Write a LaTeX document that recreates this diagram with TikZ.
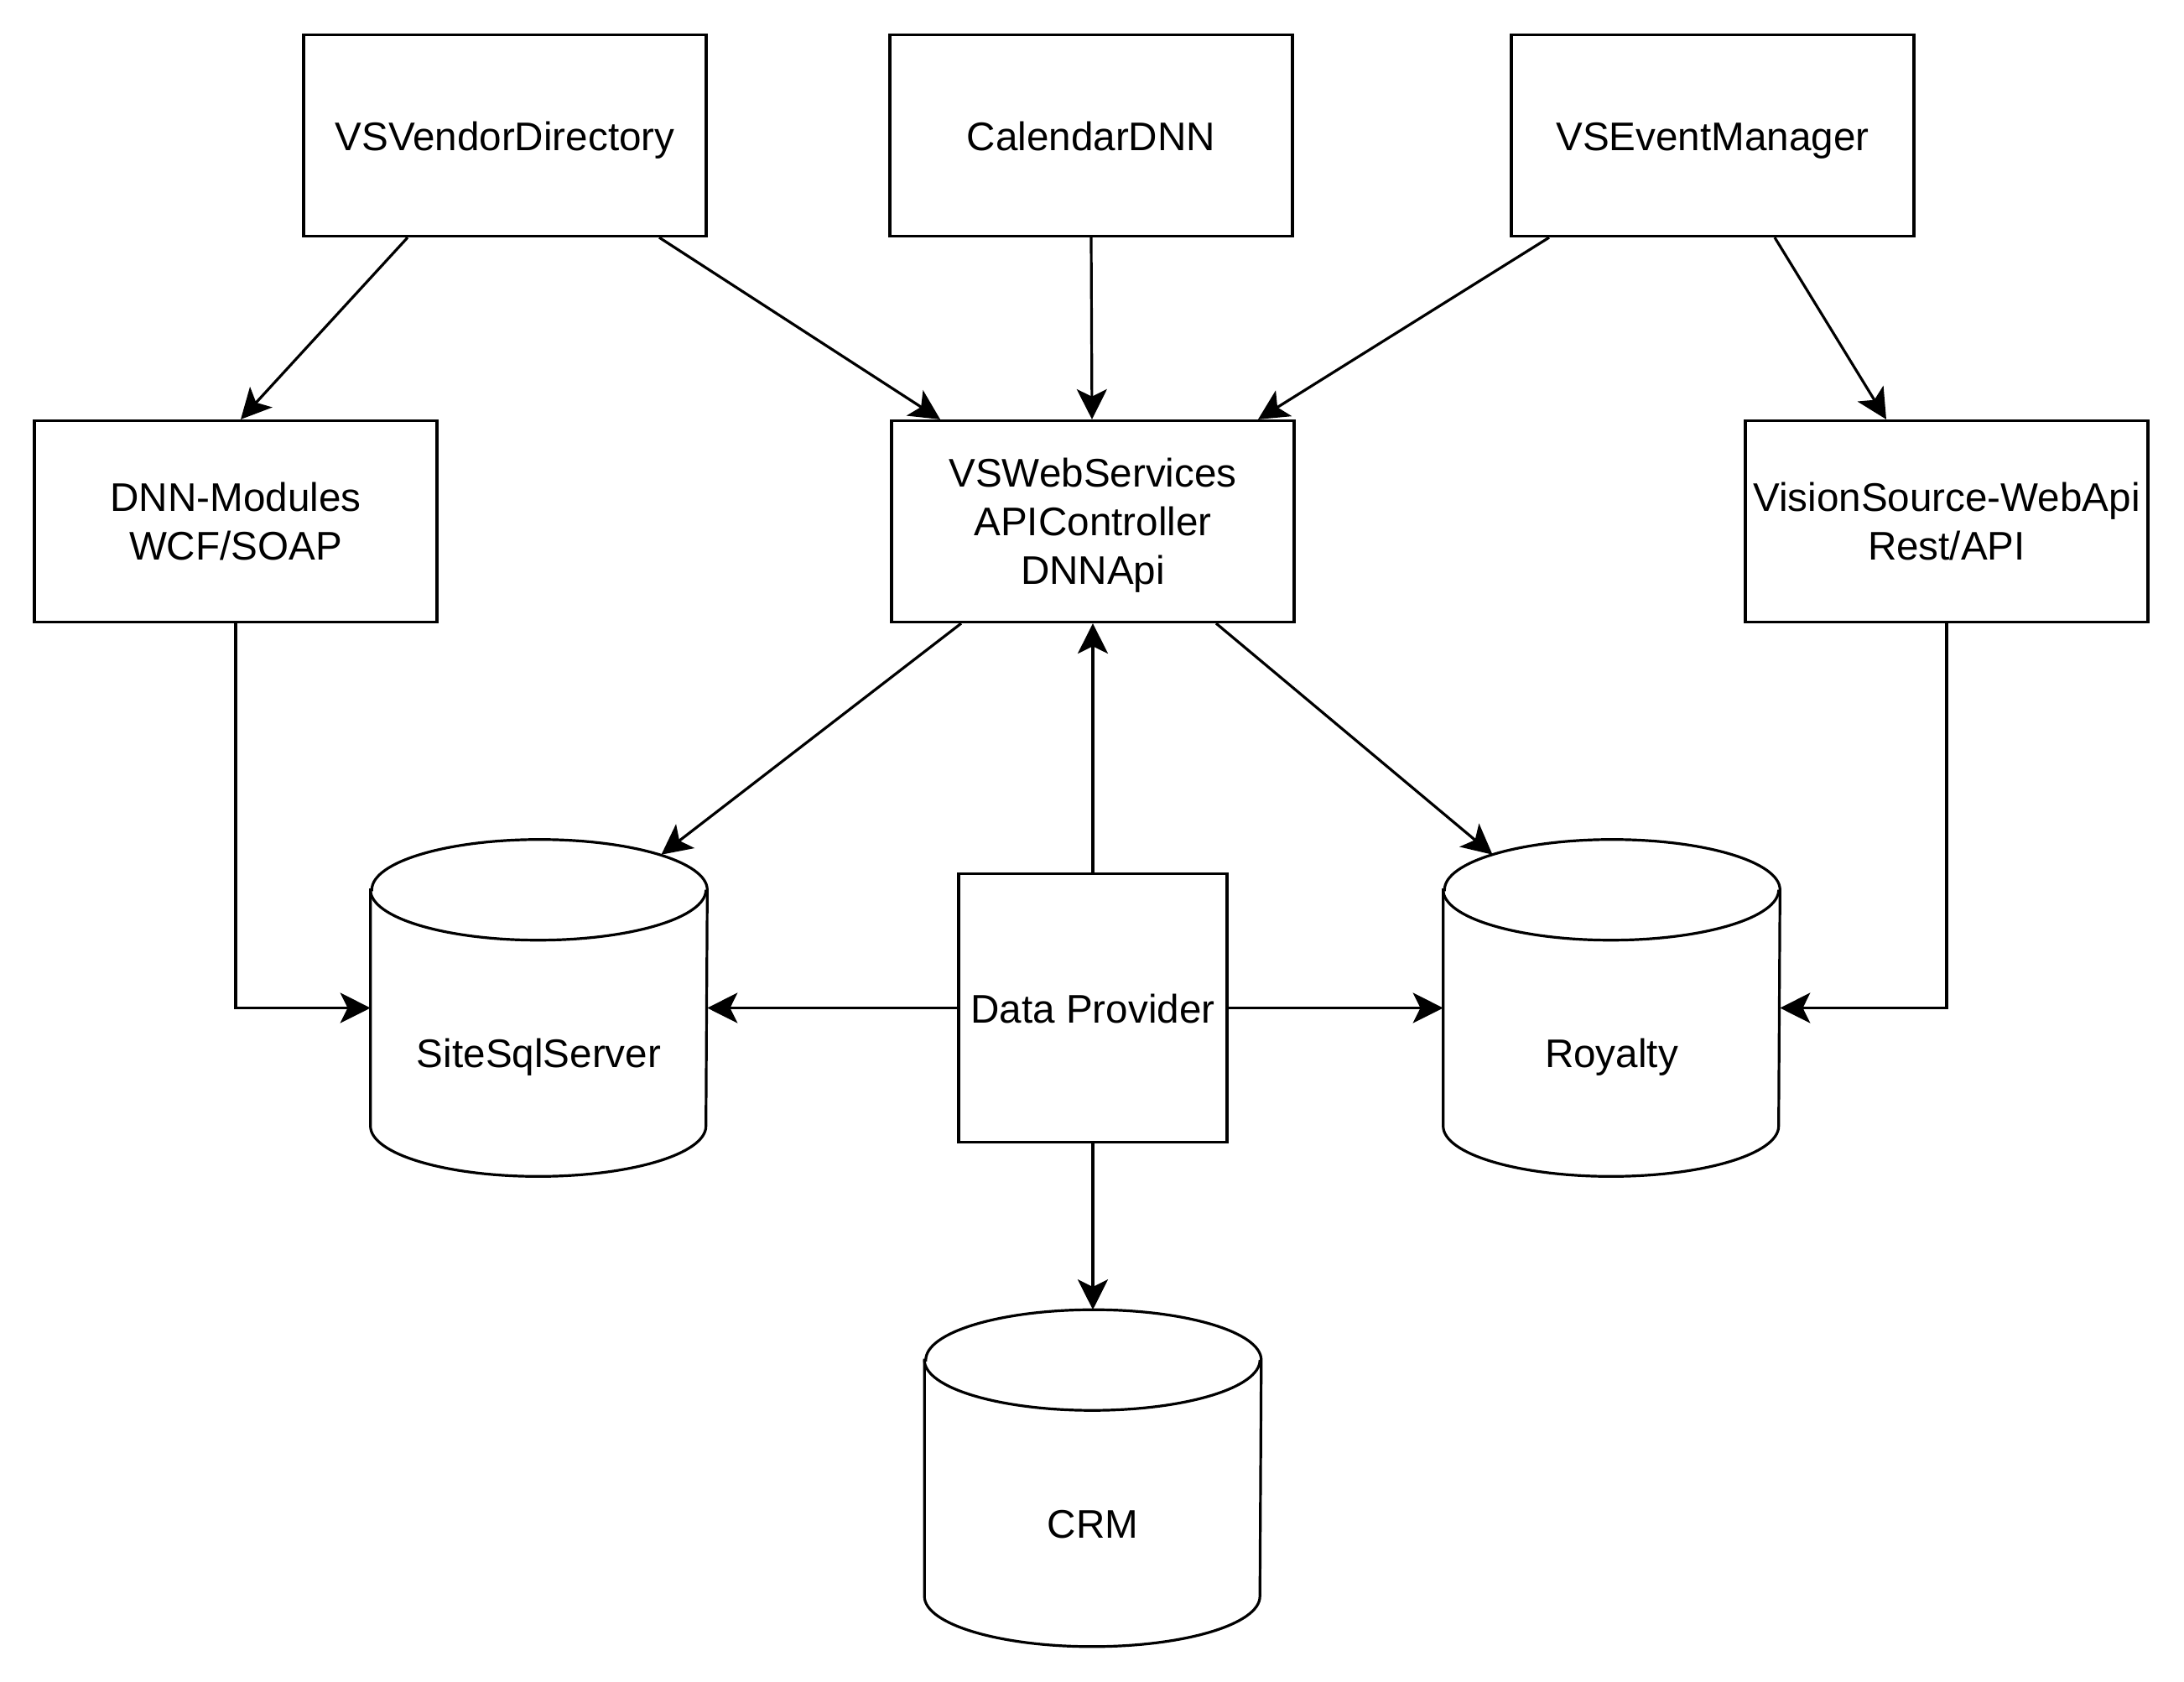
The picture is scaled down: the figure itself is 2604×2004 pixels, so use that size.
\documentclass[tikz,border=0pt]{standalone}
\usepackage{fontspec}
\setmainfont{Liberation Sans}
\usetikzlibrary{arrows.meta,calc}
\tikzset{
  box/.style={draw=black, line width=0.8pt, fill=white, rectangle, minimum width=120pt, minimum height=60pt, align=center, inner sep=0pt, font=\fontsize{11.9pt}{14.5pt}\selectfont},
  oneline/.style={text height=10pt, text depth=1.2pt},
  dpbox/.style={box, oneline, minimum width=80pt, minimum height=80pt},
  cyl/.style={rectangle, minimum width=100pt, minimum height=100pt, inner sep=0pt},
  cyltext/.style={inner sep=0pt, oneline, font=\fontsize{11.9pt}{14.5pt}\selectfont},
  conn/.style={line width=0.8pt, -{Stealth[length=9pt,width=9pt,inset=2.2pt]}},
}
\newcommand{\drawcyl}[1]{%
  \draw[line width=0.8pt, fill=white] ([yshift=-15pt]#1.north west) -- ([yshift=15pt]#1.south west)
    arc[start angle=180, end angle=360, x radius=50pt, y radius=15pt]
    -- ([yshift=-15pt]#1.north east)
    arc[start angle=0, end angle=180, x radius=50pt, y radius=15pt] -- cycle;
  \draw[line width=0.8pt] ([yshift=-15pt]#1.north west)
    arc[start angle=180, end angle=360, x radius=50pt, y radius=15pt];
}
\begin{document}
\begin{tikzpicture}[x=0.25pt, y=-0.25pt]
\useasboundingbox[fill=white] (0,0) rectangle (2604,2004);

% top row
\node[box, oneline] (vendor) at (602,161.5) {VSVendorDirectory};
\node[box, oneline] (calendar) at (1301,161.5) {CalendarDNN};
\node[box, oneline] (event) at (2042,161.5) {VSEventManager};

% middle row
\node[box] (dnn) at (281,621.5) {DNN-Modules\\WCF/SOAP};
\node[box] (web) at (1303,621.5) {VSWebServices\\APIController\\DNNA\smash{p}i};
\node[box] (vsrc) at (2321,621.5) {VisionSource-WebApi\\Rest/API};

% databases
\node[cyl] (sql) at (642.5,1201.5) {};
\node[cyl] (roy) at (1921.5,1201.5) {};
\node[cyl] (crm) at (1303,1762) {};
\drawcyl{sql}
\drawcyl{roy}
\drawcyl{crm}
\node[cyltext] (sqltext) at ([yshift=-13.4pt]sql.center) {SiteSqlServer};
\node[cyltext] (roytext) at ([yshift=-13.4pt]roy.center) {Royalty};
\node[cyltext] (crmtext) at ([yshift=-13.4pt]crm.center) {CRM};

\node[dpbox] (dp) at (1303,1201.5) {Data Provider};

% connectors
\draw[conn] ($(vendor.south)+(-116,0)$) -- ($(dnn.north)+(6,0)$);
\draw[conn] ($(vendor.south)+(184,0)$) -- ($(web.north)+(-182,0)$);
\draw[conn] (calendar.south) -- ($(web.north)+(-1,0)$);
\draw[conn] ($(event.south)+(-195,0)$) -- ($(web.north)+(197,0)$);
\draw[conn] ($(event.south)+(74,0)$) -- ($(vsrc.north)+(-72,0)$);

\draw[conn] ($(web.south)+(-157,0)$) -- ($(sql.north)+(146,18)$);
\draw[conn] ($(web.south)+(147,0)$) -- ($(roy.north)+(-142,18)$);
\draw[conn] (dp.north) -- (web.south);

\draw[conn] (dp.west) -- (sql.east);
\draw[conn] (dp.east) -- (roy.west);
\draw[conn] (dp.south) -- (crm.north);

\draw[conn] (dnn.south) |- (sql.west);
\draw[conn] (vsrc.south) |- (roy.east);
\end{tikzpicture}
\end{document}
